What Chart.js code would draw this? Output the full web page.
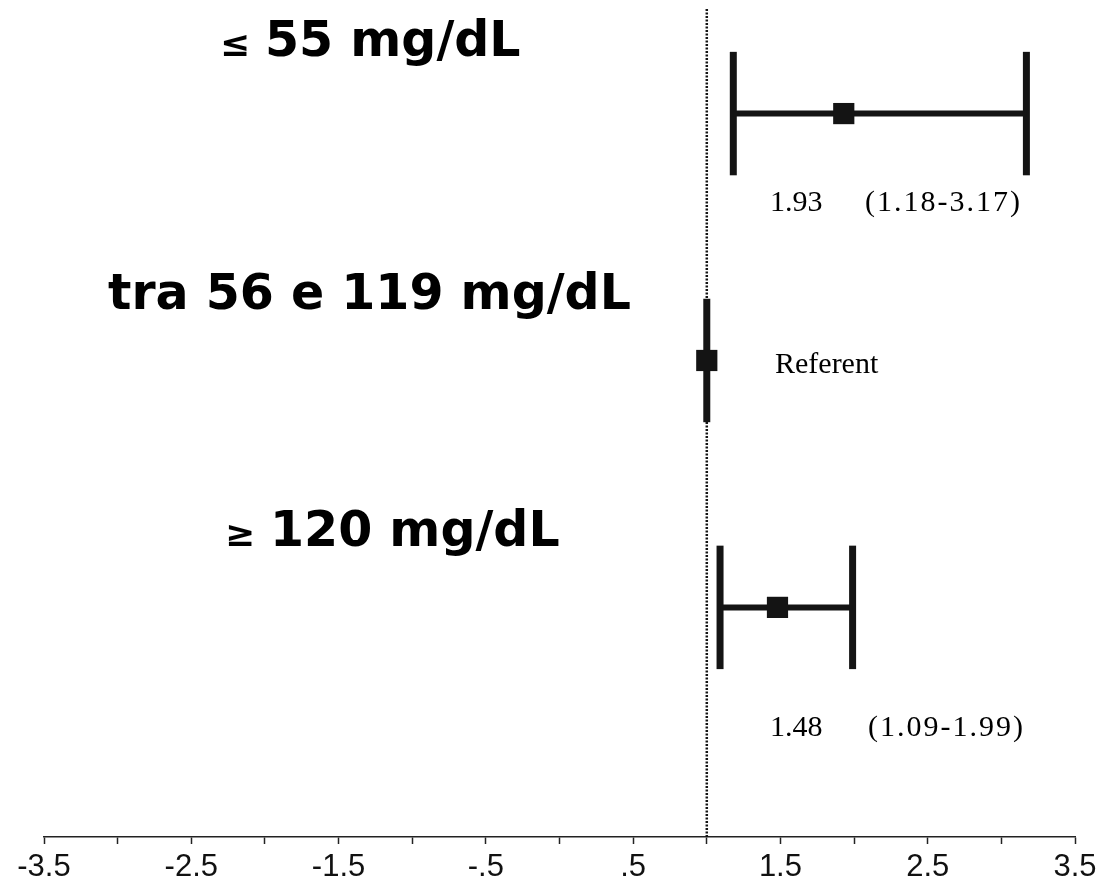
<!DOCTYPE html>
<html>
<head>
<meta charset="utf-8">
<script src="https://cdn.jsdelivr.net/npm/chart.js@4"></script>
<style>
  html, body { margin: 0; padding: 0; background: #fff; }
  #wrap { width: 1100px; height: 877px; }
</style>
</head>
<body>
<div id="wrap"><canvas id="chart" width="1100" height="877"></canvas></div>
<script>
// values
const categories = ['≤ 55 mg/dL', 'tra 56 e 119 mg/dL', '≥ 120 mg/dL'];
const oddsRatio = [1.93, 1.00, 1.48];
const ciLow = [1.18, null, 1.09];
const ciHigh = [3.17, null, 1.99];
const orText = ['1.93', 'Referent', '1.48'];
const ciText = ['(1.18-3.17)', null, '(1.09-1.99)'];
const referenceValue = 1;
const labelValues = [-3.5, -2.5, -1.5, -0.5, 0.5, 1.5, 2.5, 3.5];
const tickLabels = ['-3.5', '-2.5', '-1.5', '-.5', '.5', '1.5', '2.5', '3.5'];

const rowY = categories.map((c, i) => categories.length - i);
const capHalf = 0.25;
const ink = '#141414';

var datasets = [];

// dotted line at OR = 1
datasets.push({
  data: [{x: referenceValue, y: 0.07}, {x: referenceValue, y: 3.43}],
  showLine: true, borderColor: ink, borderWidth: 2.5, borderDash: [2, 1.5],
  pointRadius: 0, order: 10
});

categories.forEach((c, i) => {
  const y = rowY[i];
  if (ciLow[i] !== null) {
    datasets.push({
      data: [{x: ciLow[i], y: y}, {x: ciHigh[i], y: y}],
      showLine: true, borderColor: ink, borderWidth: 6, pointRadius: 0, order: 5
    });
    [ciLow[i], ciHigh[i]].forEach(v => {
      datasets.push({
        data: [{x: v, y: y - capHalf}, {x: v, y: y + capHalf}],
        showLine: true, borderColor: ink, borderWidth: 7, pointRadius: 0, order: 5
      });
    });
  } else {
    // referent row: a single vertical bar
    datasets.push({
      data: [{x: oddsRatio[i], y: y - capHalf}, {x: oddsRatio[i], y: y + capHalf}],
      showLine: true, borderColor: ink, borderWidth: 7, pointRadius: 0, order: 5
    });
  }
});

datasets.push({
  data: oddsRatio.map((v, i) => ({x: v, y: rowY[i]})),
  pointStyle: 'rect', pointRadius: 15, pointHoverRadius: 15,
  backgroundColor: ink, borderWidth: 0, order: 1
});

// text next to the rows
const textPlugin = {
  id: 'rowText',
  afterDatasetsDraw(chart) {
    const ctx = chart.ctx;
    const yScale = chart.scales.y;
    const labelPos = [{x: 220, dy: -58}, {x: 108, dy: -51}, {x: 225, dy: -61}];
    const valuePos = [{dy: 97}, {dy: 13}, {dy: 129}];
    ctx.save();
    ctx.fillStyle = '#000';
    ctx.textBaseline = 'alphabetic';
    ctx.textAlign = 'left';
    categories.forEach((c, i) => {
      const py = yScale.getPixelForValue(rowY[i]);
      const base = py + labelPos[i].dy;
      let x = labelPos[i].x;
      let text = c;
      if (c[0] === '≤' || c[0] === '≥') {
        ctx.font = 'bold 36px "DejaVu Sans"';
        ctx.fillText(c[0], x, base);
        x += 45;
        text = c.slice(2);
      }
      ctx.font = 'bold 49px "DejaVu Sans"';
      ctx.fillText(text, x, base);

      const vb = py + valuePos[i].dy;
      ctx.font = '30px "Liberation Serif"';
      ctx.fillText(orText[i], i === 1 ? 775 : 770, vb);
      if (ciText[i]) {
        ctx.letterSpacing = '2px';
        ctx.fillText(ciText[i], i === 0 ? 865 : 868, vb);
        ctx.letterSpacing = '0px';
      }
    });
    ctx.restore();
  }
};

var ctx = document.getElementById('chart').getContext('2d');
var forest = new Chart(ctx, {
  type: 'scatter',
  data: { datasets: datasets },
  options: {
    responsive: false,
    animation: false,
    events: [],
    layout: { autoPadding: false, padding: { left: 44, right: 25, top: 0, bottom: -14 } },
    plugins: { legend: { display: false }, tooltip: { enabled: false } },
    scales: {
      x: {
        type: 'linear', min: -3.5, max: 3.5,
        afterFit: function (scale) {
          // let the layout padding alone decide the plot width
          scale.paddingLeft = 0;
          scale.paddingRight = 0;
        },
        ticks: {
          stepSize: 0.5, autoSkip: false, maxRotation: 0, padding: 8,
          color: '#111',
          font: { family: '"Liberation Sans", Arial', size: 31, lineHeight: 1 },
          callback: function (value) {
            const i = labelValues.indexOf(value);
            return i >= 0 ? tickLabels[i] : '';
          }
        },
        grid: { drawOnChartArea: false, tickLength: 7, color: '#222', tickWidth: 1.5 },
        border: { display: true, color: '#222', width: 1.5 }
      },
      y: { type: 'linear', min: 0.07, max: 3.46, display: false }
    }
  },
  plugins: [textPlugin]
});
</script>
</body>
</html>
